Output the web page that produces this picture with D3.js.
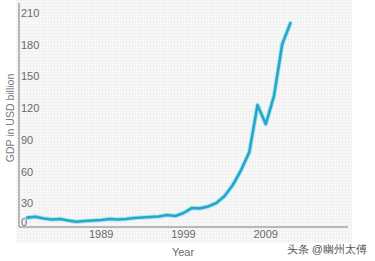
<!DOCTYPE html>
<html><head><meta charset="utf-8">
<script src="https://cdn.jsdelivr.net/npm/d3@7/dist/d3.min.js"></script>
<style>
html,body{margin:0;padding:0;background:#fff;}
svg{display:block;}
text{font-family:"Liberation Sans Narrow","Liberation Sans",Roboto,sans-serif;}
</style></head>
<body>
<svg id="c" width="375" height="261"></svg>
<script>
const years = d3.range(1980, 2013);
const gdp = [16.4,17.3,15.6,14.6,15.1,13.7,12.6,13.2,13.7,14.2,15.1,14.6,15.1,
  16.1,16.5,17.0,17.5,18.9,18.0,20.8,25.5,25.2,27.0,30.2,36.9,47.3,61.4,78.4,
  122.9,104.9,131.4,180.5,200.4];
const yTicks = [0,30,60,90,120,150,180,210];
const xTicks = [1989,1999,2009];
const yTitle = "GDP in USD billion";
const xTitle = "Year";
const watermark = "头条 @幽州太傅";

const svg = d3.select("#c");
const mLeft = 19, mRight = 348, mBottom = 227, mTop = 3;
const x = d3.scaleLinear().domain([1979, 2019]).range([mLeft, mRight]);
const y = d3.scaleLinear().domain([0, 210]).range([235, 13]);

// textured background
const defs = svg.append("defs");
const pat = defs.append("pattern").attr("id","grid").attr("width",3).attr("height",3)
  .attr("patternUnits","userSpaceOnUse");
pat.append("rect").attr("width",3).attr("height",3).attr("fill","#f9f9f9");
pat.append("path").attr("d","M0,0.5H3M0.5,0V3").attr("stroke","#f1f1f1").attr("stroke-width",1);
svg.append("rect").attr("x",16).attr("y",0).attr("width",336).attr("height",243).attr("fill","url(#grid)");

// axes lines
svg.append("line").attr("x1",mLeft).attr("x2",mLeft).attr("y1",mTop).attr("y2",mBottom)
  .attr("stroke","#7a7a7a").attr("stroke-width",1);
svg.append("line").attr("x1",mLeft).attr("x2",mRight).attr("y1",mBottom).attr("y2",mBottom)
  .attr("stroke","#7a7a7a").attr("stroke-width",1);

// y tick labels (inside, left aligned)
svg.append("g").selectAll("text").data(yTicks).join("text")
  .attr("x", mLeft + 2)
  .attr("y", d => Math.min(y(d), mBottom - 5))
  .attr("dominant-baseline","central")
  .attr("font-size",11).attr("fill","#6a6a6a")
  .text(d => d);

// x tick labels
svg.append("g").selectAll("text").data(xTicks).join("text")
  .attr("x", d => x(d)).attr("y", 234)
  .attr("text-anchor","middle").attr("dominant-baseline","central")
  .attr("font-size",11).attr("fill","#6a6a6a")
  .text(d => d);

// titles
svg.append("text").attr("transform","translate(10,118) rotate(-90)")
  .attr("text-anchor","middle").attr("dominant-baseline","central")
  .attr("font-size",10.5).attr("fill","#7a7a7a").text(yTitle);
svg.append("text").attr("x",183).attr("y",252)
  .attr("text-anchor","middle").attr("dominant-baseline","central")
  .attr("font-size",11).attr("fill","#6a6a6a").text(xTitle);

// line
const data = years.map((yr,i)=>({yr, v: gdp[i]}));
const line = d3.line().x(d=>x(d.yr)).y(d=>y(d.v));
svg.append("path").datum(data).attr("d",line).attr("fill","none")
  .attr("stroke","#a9e7f5").attr("stroke-width",4.6).attr("stroke-linejoin","round").attr("stroke-linecap","round");
svg.append("path").datum(data).attr("d",line).attr("fill","none")
  .attr("stroke","#27a6c9").attr("stroke-width",2.6).attr("stroke-linejoin","round").attr("stroke-linecap","round");

// watermark
svg.append("text").attr("x",367).attr("y",249).attr("text-anchor","end")
  .attr("dominant-baseline","central")
  .attr("font-family","'Noto Sans CJK SC',sans-serif")
  .attr("font-size",11).attr("fill","#555").text(watermark);
</script>
</body></html>
